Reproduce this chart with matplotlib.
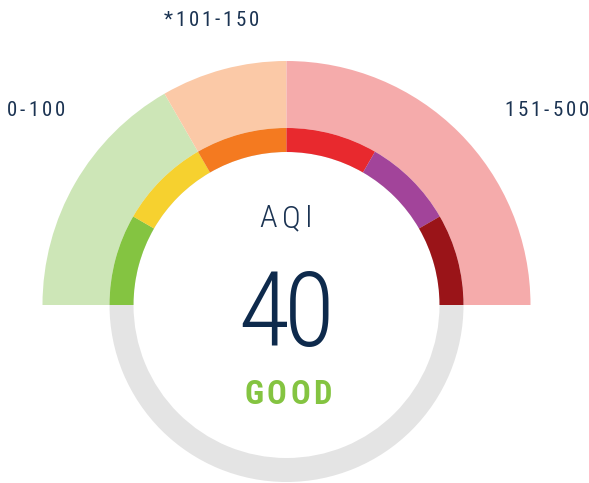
import matplotlib
matplotlib.use("Agg")
import matplotlib.pyplot as plt

# ---- data ----
aqi_value = 40
aqi_status = "GOOD"
inner_categories = ["Good", "Moderate", "Unhealthy for Sensitive Groups",
                    "Unhealthy", "Very Unhealthy", "Hazardous"]
inner_spans = [1, 1, 1, 1, 1, 1]
inner_colors = ["#84c441", "#f6d12f", "#f47a20", "#e8292e", "#a2449a", "#9a1418"]
outer_labels = ["0-100", "*101-150", "151-500"]
outer_spans = [2, 1, 3]
outer_colors = ["#cde6b7", "#fbc9a7", "#f5abab"]

W, H = 589, 483
fig = plt.figure(figsize=(W / 100, H / 100), dpi=100)
ax = fig.add_axes([0, 0, 1, 1])
ax.set_xlim(0, W)
ax.set_ylim(0, H)
ax.axis("off")

cx, cy = 286.5, H - 305
r_outer, r_ring, r_inner = 244, 177, 153

# gray background ring (full circle)
ax.pie([1], colors=["#e4e4e4"], radius=r_ring, center=(cx, cy), frame=True,
       wedgeprops=dict(width=r_ring - r_inner, linewidth=0))

# light outer band (top half)
half = sum(outer_spans)
ax.pie(outer_spans + [half], colors=outer_colors + ["none"], radius=r_outer,
       center=(cx, cy), startangle=180, counterclock=False, frame=True,
       wedgeprops=dict(width=r_outer - r_ring, linewidth=0))

# colored category ring (top half)
half_i = sum(inner_spans)
ax.pie(inner_spans + [half_i], colors=inner_colors + ["none"], radius=r_ring,
       center=(cx, cy), startangle=180, counterclock=False, frame=True,
       wedgeprops=dict(width=r_ring - r_inner, linewidth=0))

ax.set_xlim(0, W)
ax.set_ylim(0, H)
ax.set_aspect("auto")

renderer = fig.canvas.get_renderer()


def fit_text(s, xc, ybase, width, **kw):
    arts = [ax.text(0, 0, ch, ha="left", va="baseline", **kw) for ch in s]
    widths = [a.get_window_extent(renderer).width for a in arts]
    track = (width - sum(widths)) / max(len(s) - 1, 1)
    x = xc - width / 2
    for a, w in zip(arts, widths):
        a.set_position((x, ybase))
        x += w + track


FAM = "Roboto Condensed"
navy = "#1b3352"
fit_text(outer_labels[0], 36, H - 116, 59, fontsize=15, family=FAM, color=navy)
fit_text(outer_labels[1], 211.5, H - 25.5, 95, fontsize=15, family=FAM, color=navy)
fit_text(outer_labels[2], 546.5, H - 116, 85, fontsize=15, family=FAM, color=navy)

fit_text("AQI", 286, H - 227, 54, fontsize=23, family=FAM, weight=300, color=navy)
fit_text(str(aqi_value), 286.5, H - 346, 97, fontsize=75, family=FAM,
         weight=300, color="#0e2a4c")
fit_text(aqi_status, 288, H - 404, 87, fontsize=23.5, family=FAM,
         weight="bold", color=inner_colors[0])

fig.savefig("out.png", dpi=100)
